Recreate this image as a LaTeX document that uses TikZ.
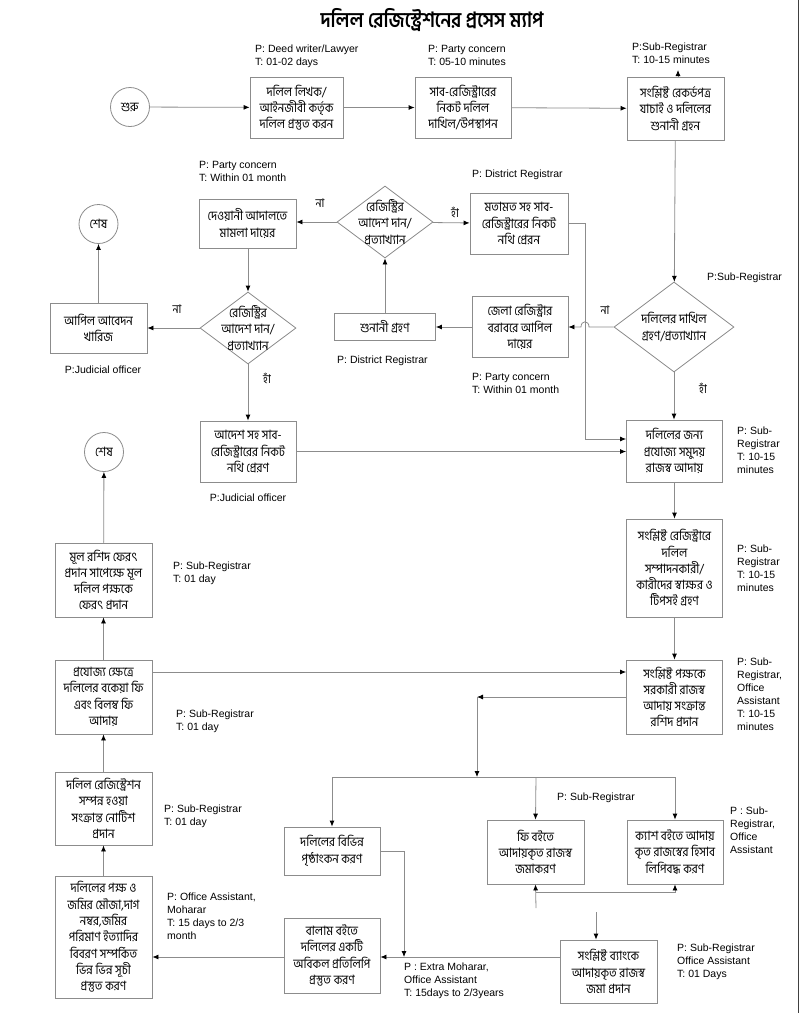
\documentclass[tikz,border=0pt]{standalone}
\usepackage{fontspec}
\setmainfont{Liberation Sans}
\newfontfamily\bn[Script=Bengali]{Hind Siliguri}
\newfontfamily\bnn[Script=Bengali,FakeStretch=0.89]{Hind Siliguri}
\usetikzlibrary{arrows.meta,shapes.geometric,calc}
\definecolor{lgray}{HTML}{8C8C8C}
\begin{document}
\begin{tikzpicture}[x=1pt,y=-1pt,
 box/.style={draw=lgray, line width=0.8pt, fill=white, align=center, inner sep=1pt, font=\bnn\fontsize{12.9}{16.3}\selectfont},
 circ/.style={circle, draw=lgray, line width=0.8pt, minimum size=39pt, inner sep=0pt, font=\bnn\fontsize{12.9}{14}\selectfont},
 dia/.style={diamond, draw=lgray, line width=0.8pt, fill=white, inner sep=0pt},
 dtext/.style={align=center, font=\bnn\fontsize{12.9}{16.3}\selectfont, inner sep=0pt},
 lab/.style={align=left, font=\fontsize{10.5}{13}\selectfont, inner sep=0pt, anchor=north west},
 yn/.style={font=\bnn\fontsize{12}{13}\selectfont, inner sep=0pt},
 wire/.style={draw=lgray, line width=0.8pt},
 arr/.style={draw=lgray, line width=0.8pt, -{Latex[length=6pt,width=5pt,color=black]}}]
\useasboundingbox (0,0) rectangle (800,1013);
\fill[white] (0,0) rectangle (800,1013);
\draw[black!75, line width=1.2pt] (798.5,0) -- (798.5,1013);

% title
\node[font=\bnn\bfseries\fontsize{21}{24}\selectfont] (title) at (432,20) {দলিল রেজিস্ট্রেশনের প্রসেস ম্যাপ};

% row 1
\node[circ] (start) at (130,107) {শুরু};
\node[box, minimum width=93pt, minimum height=61pt] (b1) at (296.5,107.5) {দলিল লিখক/\\আইনজীবী কর্তৃক\\দলিল প্রস্তুত করন};
\node[box, minimum width=96pt, minimum height=61pt] (b2) at (463,107.5) {সাব-রেজিস্ট্রারের\\নিকট দলিল\\দাখিল/উপস্থাপন};
\node[box, minimum width=97pt, minimum height=63pt] (b3) at (675.5,108.5) {সংশ্লিষ্ট রেকর্ডপত্র\\যাচাই ও দলিলের\\শুনানী গ্রহন};
\node[lab] (l1) at (255,45) {P: Deed writer/Lawyer\\T: 01-02 days};
\node[lab] (l2) at (428,45) {P: Party concern\\T: 05-10 minutes};
\node[lab] (l3) at (632,43) {P:Sub-Registrar\\T: 10-15 minutes};

% right diamond
\node[dia, minimum width=120pt, minimum height=90pt] (dA) at (674,327) {};
\node[dtext] (dAt) at (674,327) {দলিলের দাখিল\\গ্রহণ/প্রত্যাখ্যান};
\node[lab] (l6) at (707,273) {P:Sub-Registrar};
\node[yn] (no1) at (605,310) {না};
\node[yn] (yes1) at (703,388) {হাঁ};

% middle
\node[box, minimum width=96pt, minimum height=61pt] (jela) at (520,327) {জেলা রেজিস্ট্রার\\বরাবরে আপিল\\দায়ের};
\node[box, minimum width=101pt, minimum height=27pt] (shunani) at (385,327) {শুনানী গ্রহণ};
\node[dia, minimum width=96pt, minimum height=72pt] (dB) at (385,222) {};
\node[dtext] (dBt) at (385,222) {রেজিস্ট্রির\\আদেশ দান/\\প্রত্যাখ্যান};
\node[box, minimum width=98pt, minimum height=61pt] (matamot) at (519,223.5) {মতামত সহ সাব-\\রেজিস্ট্রারের নিকট\\নথি প্রেরন};
\node[box, minimum width=97pt, minimum height=49pt] (dewani) at (247.5,223.5) {দেওয়ানী আদালতে\\মামলা দায়ের};
\node[lab] (l4) at (199,161) {P: Party concern\\T: Within 01 month};
\node[lab] (l5) at (472,170) {P: District Registrar};
\node[lab] (l8) at (337,356) {P: District Registrar};
\node[lab] (l9) at (472,373) {P: Party concern\\T: Within 01 month};
\node[yn] (yes2) at (455,212) {হাঁ};
\node[yn] (no2) at (320,203) {না};

% left diamond
\node[dia, minimum width=96pt, minimum height=72pt] (dC) at (248,328) {};
\node[dtext] (dCt) at (248,328) {রেজিস্ট্রির\\আদেশ দান/\\প্রত্যাখ্যান};
\node[box, minimum width=97pt, minimum height=50pt] (apil) at (98.5,328) {আপিল আবেদন\\খারিজ};
\node[circ] (end1) at (98.5,224) {শেষ};
\node[lab, anchor=north] (l7) at (103,366) {P:Judicial officer};
\node[yn] (no3) at (177,309) {না};
\node[yn] (yes3) at (267,378) {হাঁ};
\node[box, minimum width=96pt, minimum height=61pt] (adesh) at (248,451.5) {আদেশ সহ সাব-\\রেজিস্ট্রারের নিকট\\নথি প্রেরণ};
\node[lab, anchor=north] (l11) at (248,494) {P:Judicial officer};

% right column
\node[box, minimum width=96pt, minimum height=62pt] (dj) at (674.5,451) {দলিলের জন্য\\প্রযোজ্য সমুদয়\\রাজস্ব আদায়};
\node[lab] (l10) at (737,427) {P: Sub-\\Registrar\\T: 10-15\\minutes};
\node[box, minimum width=96pt, minimum height=98pt] (sakkhor) at (674.5,568) {সংশ্লিষ্ট রেজিস্ট্রারে\\দলিল\\সম্পাদনকারী/\\কারীদের স্বাক্ষর ও\\টিপসই গ্রহণ};
\node[lab] (l13) at (737,545) {P: Sub-\\Registrar\\T: 10-15\\minutes};
\node[box, minimum width=96pt, minimum height=74pt] (roshid) at (674.5,697) {সংশ্লিষ্ট পক্ষকে\\সরকারী রাজস্ব\\আদায় সংক্রান্ত\\রশিদ প্রদান};
\node[lab] (l14) at (737,658) {P: Sub-\\Registrar,\\Office\\Assistant\\T: 10-15\\minutes};

% left column lower
\node[circ] (end2) at (104,452) {শেষ};
\node[box, minimum width=97pt, minimum height=74pt] (mul) at (103.5,580) {মূল রশিদ ফেরৎ\\প্রদান সাপেক্ষে মূল\\দলিল পক্ষকে\\ফেরৎ প্রদান};
\node[lab] (l12) at (173,562) {P: Sub-Registrar\\T: 01 day};
\node[box, minimum width=97pt, minimum height=74pt] (projojjo) at (103.5,697) {প্রযোজ্য ক্ষেত্রে\\দলিলের বকেয়া ফি\\এবং বিলম্ব ফি\\আদায়};
\node[lab] (l15) at (176,710) {P: Sub-Registrar\\T: 01 day};
\node[box, minimum width=97pt, minimum height=73pt] (notice) at (103.5,808.5) {দলিল রেজিস্ট্রেশন\\সম্পন্ন হওয়া\\সংক্রান্ত নোটিশ\\প্রদান};
\node[lab] (l18) at (164,805) {P: Sub-Registrar\\T: 01 day};
\node[box, minimum width=97pt, minimum height=122pt] (pokkho) at (103.5,937) {দলিলের পক্ষ ও\\জমির মৌজা,দাগ\\নম্বর,জমির\\পরিমাণ ইত্যাদির\\বিবরণ সম্পর্কিত\\ভিন্ন ভিন্ন সূচী\\প্রস্তুত করণ};
\node[lab] (l19) at (167,893) {P: Office Assistant,\\Moharar\\T: 15 days to 2/3\\month};

% bottom middle
\node[box, minimum width=96pt, minimum height=48pt] (bibhinno) at (332,851) {দলিলের বিভিন্ন\\পৃষ্ঠাংকন করণ};
\node[box, minimum width=96pt, minimum height=75pt] (balam) at (332,955.5) {বালাম বইতে\\দলিলের একটি\\অবিকল প্রতিলিপি\\প্রস্তুত করণ};
\node[lab] (l20) at (404,963) {P : Extra Moharar,\\Office Assistant\\T: 15days to 2/3years};
\node[box, minimum width=97pt, minimum height=64pt] (fee) at (535.5,852) {ফি বইতে\\আদায়কৃত রাজস্ব\\জমাকরণ};
\node[box, minimum width=96pt, minimum height=64pt] (cash) at (675,852) {ক্যাশ বইতে আদায়\\কৃত রাজস্বের হিসাব\\লিপিবদ্ধ করণ};
\node[lab] (l16) at (557,793) {P: Sub-Registrar};
\node[lab] (l17) at (730,807) {P : Sub-\\Registrar,\\Office\\Assistant};
\node[box, minimum width=97pt, minimum height=63pt] (bank) at (608.5,971.5) {সংশ্লিষ্ট ব্যাংকে\\আদায়কৃত রাজস্ব\\জমা প্রদান};
\node[lab] (l21) at (677,944) {P: Sub-Registrar\\Office Assistant\\T: 01 Days};

% coordinates
\coordinate (t3) at (678,70);
\coordinate (c1) at (585,439);
\coordinate (r1) at (300,672);
\coordinate (r2) at (477,697);
\coordinate (busL) at (332,777);
\coordinate (busX) at (477,777);
\coordinate (busM) at (536,777);
\coordinate (busR) at (675,777);
\coordinate (k1) at (404,851);
\coordinate (k2) at (404,957);
\coordinate (k3) at (500,957);
\coordinate (f1) at (536,908);
\coordinate (f2) at (536,892);
\coordinate (f3) at (675,892);
\coordinate (g1) at (596,912);

% connectors
\draw[arr] (start) -- (b1);
\draw[arr] (b1) -- (b2);
\draw[arr] (b2) -- (b3);
\draw[arr] (b3.north -| t3) -- (t3);
\draw[arr] (b3) -- (dA);
\draw[arr] (dA.west) -- (589,327) .. controls (589,320) and (581,320) .. (581,327) -- (jela.east);
\draw[arr] (jela) -- (shunani);
\draw[arr] (shunani) -- (dB);
\draw[arr] (dB) -- (matamot);
\draw[arr] (dB.west) -- (dB.west -| dewani.east);
\draw[arr] (dewani.south -| dC.north) -- (dC.north);
\draw[arr] (dC.west) -- (dC.west -| apil.east);
\draw[arr] (apil) -- (end1);
\draw[arr] (dC.south) -- (adesh.north);
\draw[arr] (matamot.east) -- (matamot.east -| c1) -- (c1) -- (c1 -| dj.west);
\draw[arr] (adesh.east) -- (adesh.east -| dj.west);
\draw[arr] (dA.south) -- (dA.south |- dj.north);
\draw[arr] (dj) -- (sakkhor);
\draw[arr] (sakkhor) -- (roshid);
\draw[arr] (r1 -| projojjo.east) -- (r1 -| roshid.west);
\draw[arr] (r2 -| roshid.west) -- (r2);
\draw[arr] (r2) -- (busX);
\draw[wire] (busL) -- (busR);
\draw[arr] (busL) -- (bibhinno.north);
\draw[arr] (busM) -- (fee.north);
\draw[arr] (busR) -- (cash.north);
\draw[arr] (bibhinno.east) -- (k1) -- (k2);
\draw[arr] (k3 -| bank.west) -- (k3 -| balam.east);
\draw[arr] (k3 -| balam.west) -- (k3 -| pokkho.east);
\draw[arr] (pokkho) -- (notice);
\draw[arr] (notice) -- (projojjo);
\draw[arr] (projojjo) -- (mul);
\draw[arr] (mul) -- (end2);
\draw[arr] (f1) -- (fee.south);
\draw[arr] (f2) -- (f3) -- (cash.south);
\draw[arr] (g1) -- (g1 |- bank.north);
\end{tikzpicture}
\end{document}
